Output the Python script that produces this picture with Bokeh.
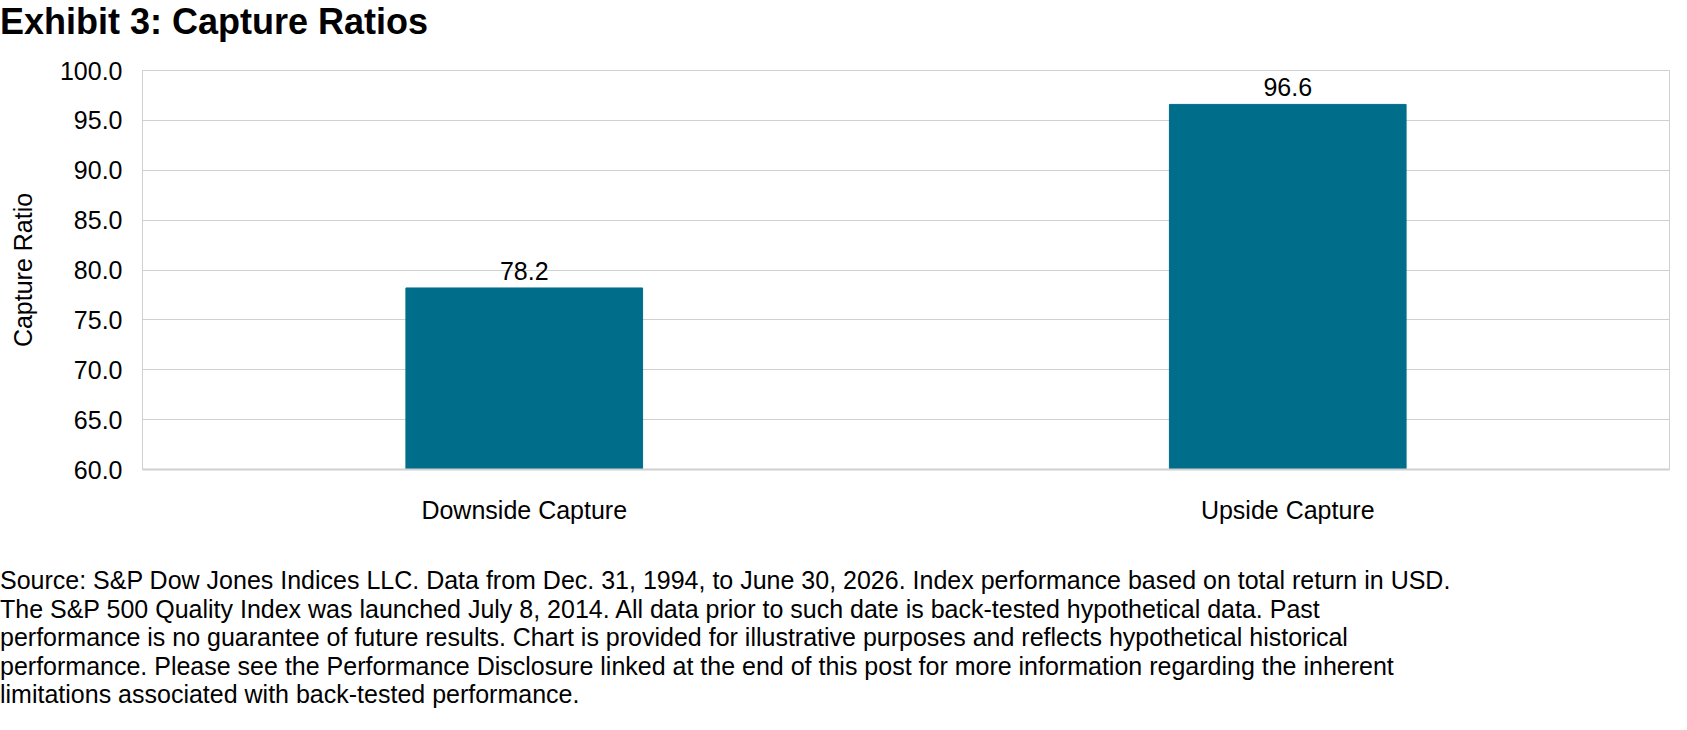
from bokeh.plotting import figure
from bokeh.models import ColumnDataSource, LabelSet, Div, NumeralTickFormatter
from bokeh.layouts import column
from bokeh.core.properties import value
from bokeh.embed import file_html
from bokeh.resources import INLINE

categories = ["Downside Capture", "Upside Capture"]
values = [78.2, 96.6]
labels = ["78.2", "96.6"]
title_text = "Exhibit 3: Capture Ratios"
footnote = [
    "Source: S&P Dow Jones Indices LLC. Data from Dec. 31, 1994, to June 30, 2026. Index performance based on total return in USD.",
    "The S&P 500 Quality Index was launched July 8, 2014. All data prior to such date is back-tested hypothetical data. Past",
    "performance is no guarantee of future results. Chart is provided for illustrative purposes and reflects hypothetical historical",
    "performance. Please see the Performance Disclosure linked at the end of this post for more information regarding the inherent",
    "limitations associated with back-tested performance.",
]

FONT = "Liberation Sans"
src = ColumnDataSource(dict(x=categories, top=values, lab=labels))

title_div = Div(text=title_text, width=1671, height=50, margin=(0, 0, 0, 0),
                styles={"font-family": FONT, "font-size": "36px", "font-weight": "bold",
                        "color": "#000", "line-height": "44px"})

p = figure(x_range=categories, y_range=(60, 100), frame_width=1527, frame_height=399,
           output_backend="svg", toolbar_location=None,
           min_border_left=142, min_border_right=2, min_border_top=20, min_border_bottom=0)

p.vbar(x="x", top="top", bottom=60, width=0.31, source=src, color="#006E8A")
p.add_layout(LabelSet(x="x", y="top", text="lab", source=src, text_align="center",
                      y_offset=8, text_font=value(FONT), text_font_size="25px", text_color="#000000"))

p.yaxis.ticker = [60, 65, 70, 75, 80, 85, 90, 95, 100]
p.yaxis.formatter = NumeralTickFormatter(format="0.0")
p.yaxis.axis_label = "Capture Ratio"
p.yaxis.axis_label_text_font = FONT
p.yaxis.axis_label_text_font_size = "25px"
p.yaxis.axis_label_text_font_style = "normal"
p.yaxis.axis_label_text_color = "#000000"
p.yaxis.axis_label_standoff = 20
for ax in (p.xaxis, p.yaxis):
    ax.major_label_text_font = FONT
    ax.major_label_text_font_size = "25px"
    ax.major_label_text_color = "#000000"
    ax.major_tick_line_color = None
    ax.minor_tick_line_color = None
p.yaxis.axis_line_color = "#d0d0d0"
p.xaxis.axis_line_color = "#d0d0d0"
p.xaxis.axis_line_width = 2
p.xaxis.major_label_standoff = 20
p.yaxis.major_label_standoff = 14
p.xgrid.grid_line_color = None
p.ygrid.grid_line_color = "#d0d0d0"
p.outline_line_color = "#d0d0d0"

foot_div = Div(text="<br>".join(footnote), width=1671, margin=(40, 0, 0, 0),
               styles={"font-family": FONT, "font-size": "25px", "color": "#000",
                       "line-height": "28.5px"})

open("out.html", "w").write(file_html(column(title_div, p, foot_div, spacing=0), INLINE))
